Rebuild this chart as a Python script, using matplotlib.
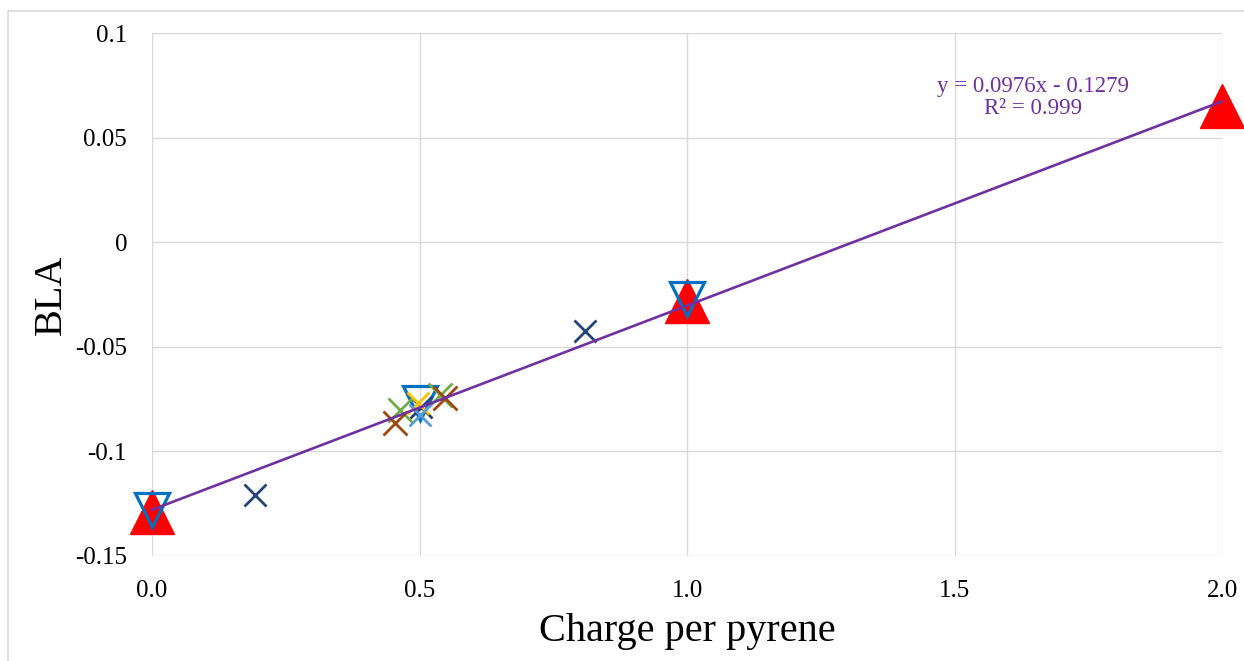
import numpy as np
import matplotlib
matplotlib.use("Agg")
import matplotlib.pyplot as plt
from matplotlib.patches import Rectangle

plt.rcParams['font.family'] = ['Liberation Serif', 'DejaVu Serif']

# reference points (red triangles) and the fitted line
tri_x = [0.0, 1.0, 2.0]
tri_y = [-0.129, -0.028, 0.065]

# inverted blue triangles
inv_x = [0.0, 0.5, 1.0]
inv_y = [-0.128, -0.077, -0.027]

# cross markers, one list per colour
navy_x = [0.193, 0.503, 0.81]
navy_y = [-0.121, -0.079, -0.0425]
green_x = [0.464, 0.539]
green_y = [-0.080, -0.073]
brown_x = [0.455, 0.548]
brown_y = [-0.0865, -0.0746]
yellow_x = [0.498]
yellow_y = [-0.077]
lblue_x = [0.50]
lblue_y = [-0.0827]

slope, intercept = 0.0976, -0.1279
fit_x = [0.0, 2.0]

fig = plt.figure(figsize=(12.44, 6.61), dpi=100)
ax = fig.add_axes([152/1244, 1 - 556/661, (1222-152)/1244, (556-33)/661])

# chart area border (cut off at right/bottom like the original)
fig.patches.append(Rectangle((8/1244, -0.1), 2, 1 - 11/661 + 0.1, transform=fig.transFigure,
                             fill=False, edgecolor='#D9D9D9', linewidth=1.2))

ax.plot(tri_x, tri_y, '^', color='#FF0000', ms=31, mec='#FF0000', zorder=3, clip_on=False)
ax.plot(inv_x, inv_y, 'v', ms=25, mfc='none', mec='#0070C0', mew=2.3, zorder=4, clip_on=False)
ax.plot(navy_x, navy_y, 'x', color='#264478', ms=16, mew=2, zorder=5, clip_on=False)
ax.plot(green_x, green_y, 'x', color='#70AD47', ms=17, mew=2, zorder=5, clip_on=False)
ax.plot(brown_x, brown_y, 'x', color='#9E480E', ms=17, mew=2, zorder=5, clip_on=False)
ax.plot(yellow_x, yellow_y, 'x', color='#FFC000', ms=16, mew=2, zorder=5, clip_on=False)
ax.plot(lblue_x, lblue_y, 'x', color='#5B9BD5', ms=16, mew=2, zorder=5, clip_on=False)

fit_y = [slope * v + intercept for v in fit_x]
ax.plot(fit_x, fit_y, '-', color='#7030A0', lw=1.9, zorder=6, clip_on=False)

ax.text(1.646, 0.0693, 'y = 0.0976x - 0.1279\nR² = 0.999', color='#7030A0',
        fontsize=16.5, ha='center', va='center', multialignment='center', linespacing=1.05)

ax.set_xlim(0, 2)
ax.set_ylim(-0.15, 0.1)
ax.set_xticks([0, 0.5, 1.0, 1.5, 2.0])
ax.set_xticklabels(['0.0', '0.5', '1.0', '1.5', '2.0'])
ax.set_yticks([-0.15, -0.1, -0.05, 0, 0.05, 0.1])
ax.set_yticklabels(['-0.15', '-0.1', '-0.05', '0', '0.05', '0.1'])
ax.tick_params(length=0, labelsize=18, pad=18)
ax.tick_params(axis='x', pad=17)
for s in ax.spines.values():
    s.set_visible(False)
ax.grid(True, color='#D9D9D9', lw=1)
ax.set_axisbelow(True)

ax.set_xlabel('Charge per pyrene', fontsize=29, labelpad=8)
ax.set_ylabel('BLA', fontsize=29, labelpad=4)

fig.savefig('out.png', dpi=100)
